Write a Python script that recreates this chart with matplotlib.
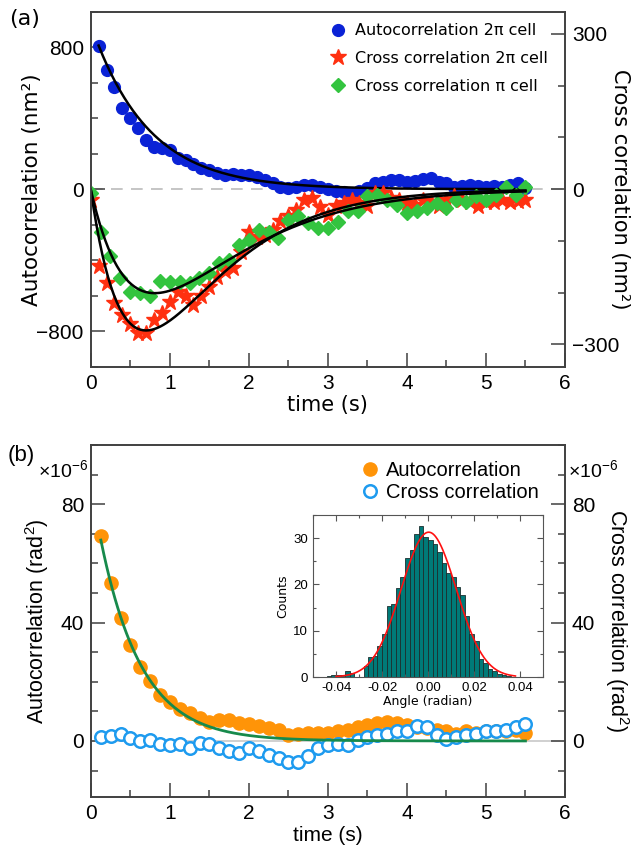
import numpy as np
import matplotlib
matplotlib.use('Agg')
import matplotlib.pyplot as plt
from matplotlib.ticker import MultipleLocator

plt.rcParams['mathtext.default'] = 'regular'

# ---- panel (a): 2pi / pi cell correlations (nm^2) ----
t_auto_a = np.round(np.arange(1, 56) * 0.1, 3)      # lag times 0.1 .. 5.5 s
auto_2pi = [809, 672, 574, 460, 400, 343, 278, 240, 231, 221,
            174, 165, 143, 122, 109, 94, 81, 86, 81, 81,
            71, 52, 37, 15, 5, 10, 24, 24, 15, 0,
            -10, -18, -22, -10, 5, 34, 43, 50, 53, 43,
            48, 55, 62, 43, 34, 15, 20, 24, 18, 15,
            18, 15, 24, 34, 5]

t_cross_2pi = np.round(np.arange(0, 56) * 0.1, 3)   # 0 .. 5.5 s
cross_2pi = [-21, -148, -182, -219, -243, -260, -278, -278, -252, -240,
             -217, -198, -207, -224, -207, -188, -170, -159, -153, -122,
             -82, -93, -88, -79, -62, -51, -40, -21, -17, -34,
             -50, -33, -27, -21, -27, -33, -8, -8, -17, -21,
             -27, -30, -21, -24, -33, -21, -14, -21, -24, -33,
             -24, -24, -21, -24, -22, -20]

t_cross_pi = np.round(np.arange(0, 45) * 0.125, 3)  # 0 .. 5.5 s
cross_pi = [-8, -82, -129, -172, -198, -201, -206, -177, -180, -179,
            -182, -172, -161, -143, -137, -108, -98, -79, -82, -95,
            -59, -51, -66, -74, -75, -63, -43, -43, -14, -11,
            -21, -30, -46, -43, -37, -27, -37, -21, -24, -14,
            -21, -11, 5, -11, 5]

# ---- panel (b): angle correlations (x1e-6 rad^2) ----
t_b = np.round(np.arange(1, 45) * 0.125, 3)          # 0.125 .. 5.5 s
auto_b = [69.1, 53.3, 41.5, 32.5, 25.1, 20.1, 15.6, 13.0, 10.7, 9.4,
          7.7, 6.5, 7.1, 7.1, 6.2, 5.7, 5.2, 4.5, 3.7, 2.0,
          2.4, 2.6, 2.6, 2.8, 3.5, 3.7, 4.8, 5.4, 6.0, 6.5,
          6.0, 5.4, 4.8, 4.3, 3.7, 3.2, 2.4, 3.2, 2.6, 3.2,
          3.2, 3.5, 3.7, 2.8]
cross_b = [1.5, 1.7, 2.4, 1.1, 0.1, 0.3, -1.0, -1.4, -1.1, -2.5,
           -0.6, -1.1, -2.5, -3.3, -4.2, -2.5, -3.3, -4.7, -5.9, -7.0,
           -7.0, -5.0, -2.5, -1.4, -1.0, -1.4, 0.3, 1.2, 2.0, 2.4,
           3.2, 3.5, 5.2, 4.6, 2.0, 0.6, 1.5, 2.0, 2.4, 3.2,
           3.2, 3.7, 4.6, 5.7]

# ---- inset histogram of angle (radian), bins of 0.002 from -0.044 ----
hist_density = [0.2, 0.35, 0.4, 0.5, 1.2, 0.8, 0, 0,
                2.4, 4.4, 4.5, 6.8, 9.2, 15.4, 15.8, 19.2, 21.7, 25.8,
                27.5, 31.0, 32.6, 30.3, 29.6, 28.7, 27.1, 24.6, 22.4, 21.7,
                19.4, 17.8, 13.1, 9.4, 7.7, 3.9, 3.1, 1.8, 1.4, 0.6, 0.5, 0.2]
hist_edges = np.round(-0.044 + 0.002 * np.arange(len(hist_density) + 1), 4)

# fit parameters
AUTO_A, TAU_A = 930, 0.72
RED_A, RED_TAU = 1060, 0.70
GREEN_A, GREEN_TAU = 674, 0.81
AUTO_B, TAU_B = 86.3, 0.52
G_AMP, G_MU, G_SIG = 31.3, 0.0003, 0.012

ARIAL = 'Liberation Sans'
VERD = 'DejaVu Sans'
SPINE = '#404040'


def style_frame(ax):
    for s in ax.spines.values():
        s.set_linewidth(1.2)
        s.set_color(SPINE)


fig = plt.figure(figsize=(6.34, 8.57), dpi=100)

# ======================= panel (a) =======================
ax1 = fig.add_axes([0.1431, 0.5721, 0.7481, 0.4142])
ax2 = ax1.twinx()

ax1.axhline(0, color='#bbbbbb', lw=1.2, ls=(0, (7, 5)), zorder=0)
h_blue, = ax1.plot(t_auto_a, auto_2pi, 'o', ls='none', color='#0a22d6', ms=8.5,
                   label='Autocorrelation 2\u03c0 cell')
tf = np.linspace(0.1, 5.5, 300)
ax1.plot(tf, AUTO_A * np.exp(-tf / TAU_A), color='black', lw=1.8, zorder=5)

h_red, = ax2.plot(t_cross_2pi, cross_2pi, '*', ls='none', color='#ff3010', ms=12,
                  label='Cross correlation 2\u03c0 cell')
h_green, = ax2.plot(t_cross_pi, cross_pi, 'D', ls='none', color='#33c43f', ms=7,
                    label='Cross correlation \u03c0 cell')
tc = np.linspace(0, 5.5, 300)
ax2.plot(tc, -RED_A * tc * np.exp(-tc / RED_TAU), color='black', lw=1.8)
ax2.plot(tc, -GREEN_A * tc * np.exp(-tc / GREEN_TAU), color='black', lw=1.8)

ax1.set_xlim(0, 6)
ax1.set_ylim(-1000, 1000)
ax2.set_ylim(-343, 343)
ax1.yaxis.set_major_locator(MultipleLocator(800))
ax1.yaxis.set_minor_locator(MultipleLocator(200))
ax2.yaxis.set_major_locator(MultipleLocator(300))
ax2.yaxis.set_minor_locator(MultipleLocator(100))
ax1.xaxis.set_major_locator(MultipleLocator(1))
ax1.xaxis.set_minor_locator(MultipleLocator(0.5))

for ax in (ax1, ax2):
    ax.tick_params(which='major', direction='in', length=10, width=1.1, color=SPINE,
                   labelsize=15, pad=5)
    ax.tick_params(which='minor', direction='in', length=5, width=1.1, color=SPINE)
    style_frame(ax)
    for lab in ax.get_xticklabels() + ax.get_yticklabels():
        lab.set_fontfamily(ARIAL)
ax1.tick_params(axis='x', top=False)

ax1.set_xlabel('time (s)', fontsize=15, family=VERD, labelpad=2)
ax1.set_ylabel('Autocorrelation (nm\u00b2)', fontsize=15.5, family=VERD,
               va='center', ha='center')
ax1.yaxis.set_label_coords(-0.124, 0.5)
ax2.set_ylabel('Cross correlation (nm\u00b2)', fontsize=15, family=VERD,
               rotation=270, va='center', ha='center')
ax2.yaxis.set_label_coords(1.116, 0.5)

ax2.legend(handles=[h_blue, h_red, h_green], loc='upper right',
           bbox_to_anchor=(0.985, 0.995), frameon=False, handletextpad=0.6,
           labelspacing=0.8, prop={'family': VERD, 'size': 11.5},
           handlelength=1.0, borderaxespad=0.2)

fig.text(0.015, 0.978, '(a)', fontsize=16, family=VERD, va='center')

# ======================= panel (b) =======================
bx = fig.add_axes([0.1435, 0.0698, 0.7476, 0.4110])
bx2 = bx.twinx()

bx.axhline(0, color='#c8c8c8', lw=1.2, zorder=0)
h_or, = bx.plot(t_b, auto_b, 'o', ls='none', color='#ff9408', ms=9.5,
                label='Autocorrelation')
h_cc, = bx.plot(t_b, cross_b, 'o', ls='none', mfc='white', mec='#1e9bef',
                mew=1.8, ms=9, label='Cross correlation')
tb = np.linspace(0.125, 5.5, 300)
bx.plot(tb, AUTO_B * np.exp(-tb / TAU_B), color='#178a4c', lw=2, zorder=4)

bx.set_xlim(0, 6)
bx.set_ylim(-19, 100)
bx2.set_ylim(-19, 100)
for ax in (bx, bx2):
    ax.yaxis.set_major_locator(MultipleLocator(40))
    ax.yaxis.set_minor_locator(MultipleLocator(10))
bx.xaxis.set_major_locator(MultipleLocator(1))
bx.xaxis.set_minor_locator(MultipleLocator(0.5))
for ax in (bx, bx2):
    ax.tick_params(which='major', direction='in', length=10, width=1.1, color=SPINE,
                   labelsize=15, pad=5)
    ax.tick_params(which='minor', direction='in', length=5, width=1.1, color=SPINE)
    style_frame(ax)
    for lab in ax.get_xticklabels() + ax.get_yticklabels():
        lab.set_fontfamily(ARIAL)

bx.set_xlabel('time (s)', fontsize=15, family=ARIAL, labelpad=2)
bx.set_ylabel('Autocorrelation (rad$^2$)', fontsize=15.5, family=ARIAL,
              va='center', ha='center')
bx.yaxis.set_label_coords(-0.114, 0.5)
bx2.set_ylabel('Cross correlation (rad$^2$)', fontsize=15.5, family=ARIAL,
               rotation=270, va='center', ha='center')
bx2.yaxis.set_label_coords(1.11, 0.5)

bx.legend(handles=[h_or, h_cc], loc='upper right', bbox_to_anchor=(0.97, 0.99),
          frameon=False, handletextpad=0.3, labelspacing=0.15, handlelength=1.0,
          prop={'family': ARIAL, 'size': 14.5}, borderaxespad=0.2)

fig.text(0.012, 0.469, '(b)', fontsize=16, family=ARIAL, va='center')
fig.text(0.139, 0.4434, '\u00d710$^{-6}$', fontsize=14, family=ARIAL, ha='right',
         va='baseline')
fig.text(0.896, 0.4434, '\u00d710$^{-6}$', fontsize=14, family=ARIAL, ha='left',
         va='baseline')

# ======================= inset =======================
ins = fig.add_axes([0.4937, 0.2100, 0.3628, 0.1890])
centers = (hist_edges[:-1] + hist_edges[1:]) / 2
ins.hist(centers, bins=hist_edges, weights=hist_density, color='#007a78',
         edgecolor='#1c2e2e', linewidth=0.6)
xg = np.linspace(-0.04, 0.038, 300)
ins.plot(xg, G_AMP * np.exp(-0.5 * ((xg - G_MU) / G_SIG) ** 2), color='#ff1010', lw=1.2)
ins.set_xlim(-0.05, 0.05)
ins.set_ylim(0, 35)
ins.xaxis.set_major_locator(MultipleLocator(0.02))
ins.xaxis.set_minor_locator(MultipleLocator(0.01))
ins.yaxis.set_major_locator(MultipleLocator(10))
ins.yaxis.set_minor_locator(MultipleLocator(5))
ins.tick_params(which='both', direction='in', top=True, right=True, color='#555555',
                labelsize=9.5, width=0.8)
ins.tick_params(which='major', length=4)
ins.tick_params(which='minor', length=2.5)
for lab in ins.get_xticklabels() + ins.get_yticklabels():
    lab.set_fontfamily(ARIAL)
ins.set_xticks([-0.04, -0.02, 0.0, 0.02, 0.04])
ins.set_xticklabels(['-0.04', '-0.02', '0.00', '0.02', '0.04'], family=ARIAL)
ins.set_xlabel('Angle (radian)', fontsize=9, family=VERD, labelpad=1)
ins.set_ylabel('Counts', fontsize=9, family=VERD, labelpad=3)
for s in ins.spines.values():
    s.set_linewidth(0.8)
    s.set_color('#555555')

fig.savefig('out.png', dpi=100)
